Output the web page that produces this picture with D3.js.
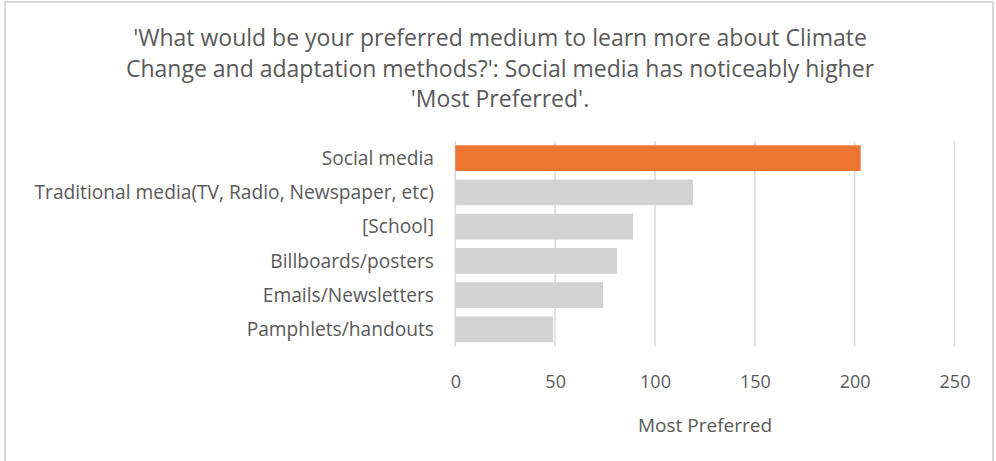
<!DOCTYPE html>
<html>
<head>
<meta charset="utf-8">
<script src="https://cdn.jsdelivr.net/npm/d3@7"></script>
<style>
  body { margin: 0; background: #fff; }
  text { font-family: "Open Sans", sans-serif; fill: #595959; }
</style>
</head>
<body>
<div id="chart"></div>
<script>
var categories = ["Social media", "Traditional media(TV, Radio, Newspaper, etc)", "[School]",
    "Billboards/posters", "Emails/Newsletters", "Pamphlets/handouts"]
var values = [203, 119, 89, 81, 74, 49]
var tickValues = [0, 50, 100, 150, 200, 250]
var titleLines = ["'What would be your preferred medium to learn more about Climate",
    "Change and adaptation methods?': Social media has noticeably higher",
    "'Most Preferred'."]
var axisTitle = "Most Preferred"

var w = 996,
    h = 461

var svg = d3.select("#chart").append("svg")
    .attr("width", w)
    .attr("height", h)

// chart border (no bottom edge visible)
svg.append("path")
    .attr("d", "M5,461 V2 H993 V461")
    .attr("fill", "none")
    .attr("stroke", "#d9d9d9")
    .attr("stroke-width", 2)

var x = d3.scaleLinear()
    .domain([0, 250])
    .range([455.3, 954.5])

var y = d3.scaleBand()
    .domain(categories)
    .range([141, 346.5])
    .paddingInner(0.25)
    .paddingOuter(0.125)

// title
svg.append("g").selectAll("text")
    .data(titleLines)
    .enter().append("text")
    .attr("x", 500)
    .attr("y", function(d, i) { return 46 + i * 30.5; })
    .attr("text-anchor", "middle")
    .style("font-size", "23px")
    .text(function(d) { return d; })

// gridlines
svg.append("g").selectAll("line")
    .data(tickValues)
    .enter().append("line")
    .attr("x1", function(d) { return x(d); })
    .attr("x2", function(d) { return x(d); })
    .attr("y1", 141)
    .attr("y2", 346.5)
    .attr("stroke", "#d9d9d9")
    .attr("stroke-width", 1.5)

// bars
svg.append("g").selectAll("rect")
    .data(values)
    .enter().append("rect")
    .attr("x", x(0))
    .attr("y", function(d, i) { return y(categories[i]); })
    .attr("width", function(d) { return x(d) - x(0); })
    .attr("height", y.bandwidth())
    .attr("fill", function(d, i) { return i === 0 ? "#ed7431" : "#d2d2d2"; })

// category labels
svg.append("g").selectAll("text")
    .data(categories)
    .enter().append("text")
    .attr("x", 434)
    .attr("y", function(d) { return y(d) + y.bandwidth() / 2; })
    .attr("dy", "0.35em")
    .attr("text-anchor", "end")
    .style("font-size", "19.2px")
    .text(function(d) { return d; })

// x tick labels
var xAxis = d3.axisBottom(x)
    .tickValues(tickValues)
    .tickSize(0)
    .tickPadding(0)

var gx = svg.append("g")
    .attr("transform", "translate(0,375)")
    .call(xAxis)
gx.select(".domain").remove()
gx.selectAll("text")
    .style("font-size", "18px")
    .style("font-family", "Open Sans, sans-serif")
    .attr("fill", "#595959")

// axis title
svg.append("text")
    .attr("x", 705)
    .attr("y", 425)
    .attr("dy", "0.35em")
    .attr("text-anchor", "middle")
    .style("font-size", "19px")
    .text(axisTitle)
</script>
</body>
</html>
